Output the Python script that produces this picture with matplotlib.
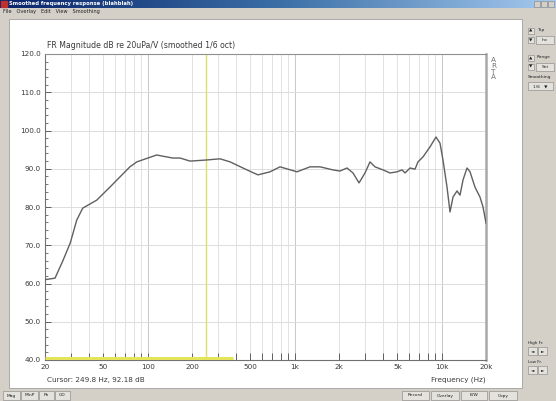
import numpy as np
import matplotlib
matplotlib.use("Agg")
import matplotlib.pyplot as plt
from matplotlib.patches import Rectangle

# --- Data ---

FREQ = [20, 23.4, 26.5, 29.7, 32.9, 36.1, 45, 55.3, 75.6, 84.3, 115, 126, 148,
        166, 194, 253, 310, 363, 473, 562, 679, 794, 1036, 1270, 1486, 1820,
        2032, 2267, 2490, 2737, 3006, 3250, 3515, 3985, 4446, 4963, 5369,
        5627, 6086, 6582, 6893, 7455, 8316, 9140, 9727, 10193, 10860, 11380,
        11930, 12710, 13310, 13960, 14860, 15570, 16830, 18200, 19090, 20000]
SPL = [61.0, 61.4, 66.0, 70.6, 76.6, 79.7, 81.8, 85.2, 90.5, 91.8, 93.6, 93.3,
       92.8, 92.8, 92.0, 92.3, 92.6, 91.8, 89.7, 88.4, 89.2, 90.5, 89.2, 90.5,
       90.5, 89.7, 89.4, 90.2, 88.9, 86.3, 88.9, 91.8, 90.5, 89.7, 88.9, 89.2,
       89.7, 88.9, 90.2, 89.9, 91.8, 93.1, 95.7, 98.3, 96.7, 92.3, 85.2, 78.7,
       82.6, 84.2, 83.1, 87.1, 90.2, 89.2, 85.2, 82.6, 80.0, 75.8]

XTICKS = [20, 30, 40, 50, 60, 70, 80, 90, 100, 200, 300, 400, 500, 600, 700,
          800, 900, 1000, 2000, 3000, 4000, 5000, 6000, 7000, 8000, 9000,
          10000, 20000]
XLABELS = {20: "20", 50: "50", 100: "100", 200: "200", 500: "500",
           1000: "1k", 2000: "2k", 5000: "5k", 10000: "10k", 20000: "20k"}
YTICKS = [40, 50, 60, 70, 80, 90, 100, 110, 120]

CURSOR_F = 249.8
CURSOR_DB = 92.18
YELLOW_END = 380

W, H = 556, 401
TXT = "#3a3a3a"

fig = plt.figure(figsize=(W / 100, H / 100), dpi=100)
fig.patch.set_facecolor("#d4d0c8")

# --- Window chrome (pixel coordinates) ---
bg = fig.add_axes([0, 0, 1, 1])
bg.set_xlim(0, W)
bg.set_ylim(H, 0)
bg.axis("off")

grad = np.linspace(0, 1, 256).reshape(1, -1)
bg.imshow(grad, extent=(0, W, 8, 0), aspect="auto",
          cmap=matplotlib.colors.LinearSegmentedColormap.from_list(
              "tb", ["#0a246a", "#3a6ea5", "#a6caf0"]), zorder=1)
bg.add_patch(Rectangle((1, 1), 6, 6, color="#c03030", zorder=2))
bg.text(9, 4, "Smoothed frequency response (blahblah)", color="white",
        fontsize=3.8, fontweight="bold", va="center", zorder=3)
for i, x in enumerate([534, 541, 548]):
    bg.add_patch(Rectangle((x, 1), 6, 6, facecolor="#d4d0c8",
                           edgecolor="#808080", lw=0.4, zorder=2))
bg.text(3, 12, "File   Overlay   Edit   View   Smoothing", color="#202020",
        fontsize=3.6, va="center")

# white client area
bg.add_patch(Rectangle((9, 19), 513, 369, facecolor="white",
                       edgecolor="#a0a0a0", lw=0.6, zorder=1))

# right control panel
def button(x, y, w, h, label=""):
    bg.add_patch(Rectangle((x, y), w, h, facecolor="#e4e2dc",
                           edgecolor="#808080", lw=0.4, zorder=2))
    if label:
        bg.text(x + w / 2, y + h / 2, label, fontsize=3.2, color="#202020",
                ha="center", va="center", zorder=3)

button(528, 28, 6, 6, "▲")
button(528, 37, 6, 6, "▼")
bg.text(537, 30, "Top", fontsize=3.2, color="#202020", va="center")
button(536, 36, 18, 8, "Inc")
button(528, 55, 6, 6, "▲")
button(528, 64, 6, 6, "▼")
bg.text(537, 57, "Range", fontsize=3.2, color="#202020", va="center")
button(536, 63, 18, 8, "Set")
bg.text(528, 77, "Smoothing", fontsize=3.2, color="#202020", va="center")
button(528, 82, 25, 8, "1/6   ▼")
bg.text(528, 343, "High Fr.", fontsize=3.0, color="#202020", va="center")
button(528, 347, 9, 8, "◄")
button(538, 347, 9, 8, "►")
bg.text(528, 362, "Low Fr.", fontsize=3.0, color="#202020", va="center")
button(528, 366, 9, 8, "◄")
button(538, 366, 9, 8, "►")

# bottom tabs and buttons
for x, w, lab in [(3, 17, "Mag"), (21, 17, "MinP"), (39, 15, "Ph"), (55, 15, "GD")]:
    button(x, 391, w, 9, lab)
for x, w, lab in [(402, 27, "Record"), (431, 28, "Overlay"), (461, 26, "B/W"),
                  (489, 28, "Copy")]:
    button(x, 391, w, 9, lab)

# --- Plot area ---
ax = fig.add_axes([45 / W, 1 - 360 / H, 441 / W, 306 / H])
ax.set_facecolor("white")
ax.set_xscale("log")
ax.set_xlim(20, 20000)
ax.set_ylim(40, 120)

for f in XTICKS:
    c = "#c8c8c8" if f in (100, 1000, 10000) else "#e2e2e2"
    ax.axvline(f, color=c, lw=0.7, zorder=0)
for v in YTICKS[1:-1]:
    ax.axhline(v, color="#dcdcdc", lw=0.7, zorder=0)

ax.plot(FREQ, SPL, color="#606060", lw=1.0, zorder=3)

ax.axvline(CURSOR_F, color="#dede70", lw=1.0, zorder=2)
ax.plot([20, YELLOW_END], [40.4, 40.4], color="#e4e45a", lw=2.2, zorder=4,
        clip_on=False, solid_capstyle="butt")

ax.set_xticks(XTICKS)
ax.set_xticklabels([XLABELS.get(f, "") for f in XTICKS])
ax.xaxis.set_minor_locator(matplotlib.ticker.NullLocator())
ax.set_yticks(YTICKS)
ax.set_yticklabels([f"{v:.1f}" for v in YTICKS])
ax.set_yticks(np.arange(40, 121, 2), minor=True)

ax.tick_params(axis="x", direction="in", length=5, width=0.7, color="#606060",
               labelsize=5.2, labelcolor=TXT, pad=3)
ax.tick_params(axis="y", which="major", direction="in", length=4, width=0.7,
               color="#606060", labelsize=5.2, labelcolor=TXT, pad=3)
ax.tick_params(axis="y", which="minor", direction="in", length=2.5,
               width=0.6, color="#606060")

for side in ("left", "bottom"):
    ax.spines[side].set_color("#707070")
    ax.spines[side].set_linewidth(0.8)
ax.spines["top"].set_color("#909090")
ax.spines["top"].set_linewidth(0.8)
ax.spines["right"].set_color("#a8a8a8")
ax.spines["right"].set_linewidth(1.8)

ax.text(0.005, 1.012, "FR Magnitude dB re 20uPa/V (smoothed 1/6 oct)",
        transform=ax.transAxes, fontsize=5.6, color=TXT, va="bottom")
ax.text(1.012, 0.99, "A\nR\nT\nA", transform=ax.transAxes, fontsize=5.2,
        color="#707070", va="top", ha="left", linespacing=0.95)
ax.text(0.005, -0.065, f"Cursor: {CURSOR_F} Hz, {CURSOR_DB:.2f} dB",
        transform=ax.transAxes, fontsize=5.2, color=TXT, va="center")
ax.text(1.0, -0.065, "Frequency (Hz)", transform=ax.transAxes, fontsize=5.2,
        color=TXT, va="center", ha="right")

fig.savefig("out.png", dpi=100, facecolor=fig.get_facecolor())
